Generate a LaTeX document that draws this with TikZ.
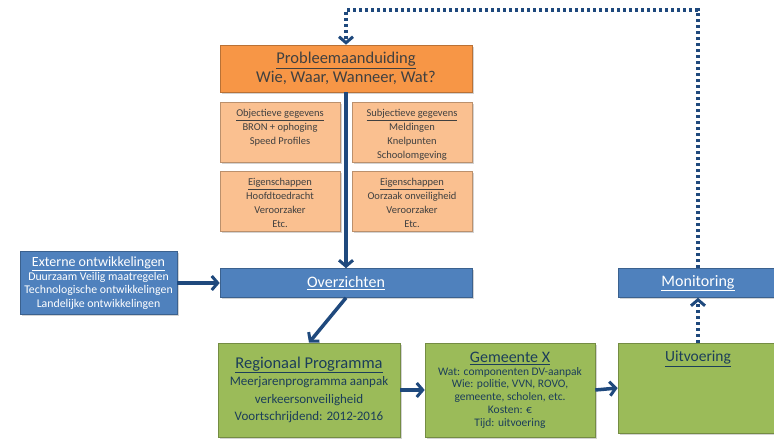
\documentclass[tikz,border=0pt]{standalone}
\usepackage{fontspec}
\setmainfont{Carlito}
\usetikzlibrary{arrows.meta,shadows}

\definecolor{oranje}{RGB}{247,150,70}
\definecolor{lichtoranje}{RGB}{250,192,144}
\definecolor{blauw}{RGB}{79,129,189}
\definecolor{groen}{RGB}{155,187,89}
\definecolor{pijlblauw}{RGB}{31,73,125}
\definecolor{donkergrijs}{RGB}{64,64,64}
\definecolor{donkerteal}{RGB}{28,62,90}

\begin{document}
\begin{tikzpicture}[x=1pt,y=-1pt,
	blok/.style={draw=#1!75!black, fill=#1, line width=0.6pt, inner sep=2pt, align=center,
		drop shadow={opacity=0.35,shadow xshift=1.5pt,shadow yshift=-1.5pt}},
	pijl/.style={draw=pijlblauw, line width=3.5pt,
		-{Straight Barb[length=6pt,width=14pt,line width=3pt]}},
	stip/.style={pijl, dash pattern=on 3pt off 3pt}]
	\useasboundingbox (0,0) rectangle (774,439);

	% probleem en gegevens
	\node[blok=oranje, minimum width=252pt, minimum height=47pt, text=donkergrijs, font=\fontsize{16.5}{18.5}\selectfont]
		(probleem) at (346,68.5) {\underline{Probleemaanduiding}\\Wie, Waar, Wanneer, Wat?};
	\node[blok=lichtoranje, minimum width=120pt, minimum height=60pt,
		label={[anchor=north, yshift=-4pt, align=center, text=donkergrijs, font=\fontsize{10.5}{14}\selectfont]north:\underline{Objectieve gegevens}\\BRON + ophoging\\Speed Profiles}]
		(objectief) at (280,132) {};
	\node[blok=lichtoranje, minimum width=120pt, minimum height=60pt,
		label={[anchor=north, yshift=-4pt, align=center, text=donkergrijs, font=\fontsize{10.5}{14}\selectfont]north:\underline{Subjectieve gegevens}\\Meldingen\\Knelpunten\\Schoolomgeving}]
		(subjectief) at (412,132) {};
	\node[blok=lichtoranje, minimum width=120pt, minimum height=60pt,
		label={[anchor=north, yshift=-4pt, align=center, text=donkergrijs, font=\fontsize{10.5}{14}\selectfont]north:\underline{Eigenschappen}\\Hoofdtoedracht\\Veroorzaker\\Etc.}]
		(eigenschappen1) at (280,201) {};
	\node[blok=lichtoranje, minimum width=120pt, minimum height=60pt,
		label={[anchor=north, yshift=-4pt, align=center, text=donkergrijs, font=\fontsize{10.5}{14}\selectfont]north:\underline{Eigenschappen}\\Oorzaak onveiligheid\\Veroorzaker\\Etc.}]
		(eigenschappen2) at (412,201) {};

	% blauwe balken
	\node[blok=blauw, minimum width=157pt, minimum height=63pt, text=white, font=\fontsize{11.8}{13.5}\selectfont]
		(extern) at (98.5,283) {{\fontsize{14}{15}\selectfont\underline{Externe ontwikkelingen}}\\Duurzaam Veilig maatregelen\\Technologische ontwikkelingen\\Landelijke ontwikkelingen};
	\node[blok=blauw, minimum width=252pt, minimum height=29pt, text=white, font=\fontsize{16}{18}\selectfont]
		(overzichten) at (346,283) {\underline{Overzichten}};
	\node[blok=blauw, minimum width=160pt, minimum height=29pt, text=white, font=\fontsize{16}{18}\selectfont]
		(monitoring) at (698,283) {\underline{Monitoring}};

	% groene blokken
	\node[blok=groen, minimum width=182pt, minimum height=94pt, text=donkerteal, font=\fontsize{13}{17.5}\selectfont]
		(regionaal) at (309,390) {{\fontsize{16.5}{19}\selectfont\underline{Regionaal Programma}}\\Meerjarenprogramma aanpak\\verkeersonveiligheid\\Voortschrijdend: 2012-2016};
	\node[blok=groen, minimum width=170pt, minimum height=94pt, text=donkerteal, font=\fontsize{11.5}{12.8}\selectfont]
		(gemeente) at (510,390) {{\fontsize{16}{19}\selectfont\underline{Gemeente X}}\\Wat: componenten DV-aanpak\\Wie: politie, VVN, ROVO,\\gemeente, scholen, etc.\\Kosten: €\\Tijd: uitvoering};
	\node[blok=groen, minimum width=160pt, minimum height=90pt] (uitvoering) at (698,388) {};
	\node[anchor=north, text=donkerteal, font=\fontsize{15.5}{17}\selectfont]
		(uitvoeringtitel) at ([yshift=-5pt]uitvoering.north) {\underline{Uitvoering}};

	% pijlen
	\draw[pijl] (probleem.south) -- (overzichten.north);
	\draw[pijl] (extern.east) -- (overzichten.west);
	\draw[pijl] (overzichten.south) -- (regionaal.north);
	\draw[pijl] (regionaal.east) -- (gemeente.west);
	\draw[pijl] (gemeente.east) -- (uitvoering.west);
	\draw[stip] (uitvoering.north) -- (monitoring.south);
	\coordinate (terugrechts) at (698,10);
	\coordinate (teruglinks) at (346,10);
	\draw[stip] (monitoring.north) -- (terugrechts) -- (teruglinks) -- (probleem.north);
\end{tikzpicture}
\end{document}
